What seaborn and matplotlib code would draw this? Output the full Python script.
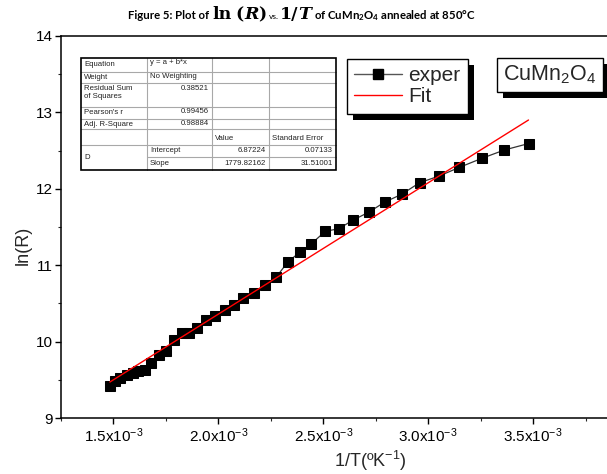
import numpy as np
import matplotlib
matplotlib.use("Agg")
import matplotlib.pyplot as plt
import seaborn as sns
from matplotlib.patches import Rectangle
from matplotlib.lines import Line2D
from matplotlib.ticker import MultipleLocator, FuncFormatter

# ---------------- data ----------------
inv_T_e3 = [1.483, 1.507, 1.533, 1.564, 1.593, 1.619, 1.648, 1.681, 1.716, 1.752,
            1.787, 1.826, 1.859, 1.899, 1.941, 1.983, 2.033, 2.076, 2.117, 2.168,
            2.221, 2.276, 2.330, 2.387, 2.443, 2.510, 2.573, 2.641, 2.719, 2.792,
            2.875, 2.959, 3.052, 3.149, 3.256, 3.363, 3.478]
ln_R = [9.424, 9.486, 9.525, 9.564, 9.591, 9.610, 9.623, 9.715, 9.827, 9.879,
        10.024, 10.109, 10.109, 10.177, 10.286, 10.332, 10.417, 10.476, 10.575, 10.636,
        10.745, 10.846, 11.038, 11.169, 11.280, 11.445, 11.476, 11.589, 11.697, 11.825,
        11.930, 12.080, 12.167, 12.281, 12.399, 12.508, 12.592]

x_ticks_e3 = [1.5, 2.0, 2.5, 3.0, 3.5]
y_ticks = [9, 10, 11, 12, 13, 14]

table_row_labels = ["Equation", "Weight", "Residual Sum\nof Squares", "Pearson's r", "Adj. R-Square"]
table_row_values = ["y = a + b*x", "No Weighting", "0.38521", "0.99456", "0.98884"]
table_header = ["Value", "Standard Error"]
table_param_names = ["Intercept", "Slope"]
table_param_values = ["6.87224", "1779.82162"]
table_param_errors = ["0.07133", "31.51001"]

# ---------------- style ----------------
sns.set_theme(style="white")
plt.rcParams["font.family"] = ["Liberation Sans", "DejaVu Sans"]
plt.rcParams["mathtext.fontset"] = "custom"
plt.rcParams["mathtext.rm"] = "Liberation Sans"
plt.rcParams["mathtext.it"] = "Liberation Sans:italic"
plt.rcParams["mathtext.bf"] = "Lato:bold"

W, H = 607, 474
fig = plt.figure(figsize=(W / 100, H / 100), dpi=100)
fig.patch.set_facecolor("white")


def fx(px):
    return px / W


def fy(py):
    return 1 - py / H


ax = fig.add_axes([fx(61), fy(418), (680 - 61) / W, (418 - 36) / H])
ax.patch.set_visible(False)

x = np.array(inv_T_e3) * 1e-3
y = np.array(ln_R)

sns.lineplot(x=x, y=y, ax=ax, sort=False, estimator=None, color="#333333", lw=0.9,
             marker="s", markersize=6.5, markerfacecolor="black", markeredgecolor="black",
             label="exper", legend=False)

slope, intercept = np.polyfit(x, y, 1)
xf = np.array([x.min(), x.max()])
sns.lineplot(x=xf, y=intercept + slope * xf, ax=ax, color="red", lw=1.0,
             label="Fit", legend=False)

ax.set_xlim(1.25e-3, 4.2e-3)
ax.set_ylim(9, 14)
ax.set_xticks(np.array(x_ticks_e3) * 1e-3)
ax.set_yticks(y_ticks)
ax.xaxis.set_minor_locator(MultipleLocator(0.25e-3))
ax.yaxis.set_minor_locator(MultipleLocator(0.5))
ax.xaxis.set_major_formatter(FuncFormatter(lambda v, p: f"{v * 1e3:.1f}x10$^{{-3}}$"))
ax.tick_params(axis="both", which="major", direction="out", length=4, width=1,
               labelsize=11, pad=2, colors="black", bottom=True, left=True)
ax.tick_params(axis="both", which="minor", direction="out", length=2.5, width=0.8,
               bottom=True, left=True)
for s in ["left", "bottom", "top"]:
    ax.spines[s].set_color("black")
    ax.spines[s].set_linewidth(1.1)
ax.spines["right"].set_visible(False)

ax.set_xlabel("1/T(ºK$^{-1}$)", fontsize=13)
ax.set_ylabel("ln(R)", fontsize=13)
ax.xaxis.set_label_coords(0.499, -0.08)
ax.yaxis.set_label_coords(-0.047, 0.453)

# ---------------- legend ----------------
lines = ax.get_lines()
h_exp = Line2D([], [], color="#555555", lw=1.0, marker="s", markersize=6.5,
               markerfacecolor="black", markeredgecolor="black")
h_fit = Line2D([], [], color="red", lw=1.0)
leg = fig.legend([h_exp, h_fit], [lines[0].get_label(), lines[1].get_label()],
                 loc="upper left", bbox_to_anchor=(fx(347), fy(59)), fontsize=15,
                 frameon=True, fancybox=False, edgecolor="black", framealpha=1,
                 handlelength=2.3, handletextpad=0.3, borderpad=0.35,
                 labelspacing=0.1, borderaxespad=0)
leg.get_frame().set_linewidth(1.0)
leg.set_zorder(5)

# compound label box
box_txt = fig.text(fx(550), fy(75), "CuMn$_2$O$_4$", fontsize=15.5, ha="center", va="center",
                   family="Liberation Sans", zorder=5,
                   bbox=dict(boxstyle="square,pad=0.28", fc="white", ec="black", lw=1.0))

# ---------------- fit table ----------------
cols = [81, 147, 212, 269, 336]
rows = [58, 72, 83, 107, 119, 129, 145, 157, 170]
grey = "#a8a8a8"
tfs = 5.6
tcol = "#222222"


def hline(py, x0, x1, c, lw):
    fig.add_artist(Line2D([fx(x0), fx(x1)], [fy(py), fy(py)], color=c, lw=lw, zorder=6))


def vline(px, y0, y1, c, lw):
    fig.add_artist(Line2D([fx(px), fx(px)], [fy(y0), fy(y1)], color=c, lw=lw, zorder=6))


fig.add_artist(Rectangle((fx(cols[0]), fy(rows[-1])), fx(cols[-1]) - fx(cols[0]),
                         fy(rows[0]) - fy(rows[-1]), fc="white", ec="none", zorder=5.5))
for r in rows[1:-1]:
    if r == 157:
        hline(r, cols[1], cols[-1], grey, 0.8)
    else:
        hline(r, cols[0], cols[-1], grey, 0.8)
for c in cols[1:-1]:
    vline(c, rows[0], rows[-1], grey, 0.8)
fig.add_artist(Rectangle((fx(cols[0]), fy(rows[-1])), fx(cols[-1]) - fx(cols[0]),
                         fy(rows[0]) - fy(rows[-1]), fc="none", ec="black", lw=1.2, zorder=7))


def ttext(px, py, s, ha="left", va="center"):
    fig.text(fx(px), fy(py), s, fontsize=tfs, ha=ha, va=va, color=tcol,
             family="Liberation Sans", zorder=8, linespacing=1.25)


for i, (lab, val) in enumerate(zip(table_row_labels, table_row_values)):
    top, bot = rows[i], rows[i + 1]
    mid = (top + bot) / 2
    if "\n" in lab:
        ttext(cols[0] + 3, top + 2, lab, va="top")
    else:
        ttext(cols[0] + 3, mid, lab)
    if i < 2:
        ttext(cols[1] + 3, top + 1.5, val, va="top")
    elif "\n" in lab:
        ttext(cols[2] - 3, top + 2, val, ha="right", va="top")
    else:
        ttext(cols[2] - 3, top + 1, val, ha="right", va="top")
ttext(cols[2] + 3, (rows[5] + rows[6]) / 2 + 1, table_header[0])
ttext(cols[3] + 3, (rows[5] + rows[6]) / 2 + 1, table_header[1])
ttext(cols[0] + 3, rows[7], "D")
for j in range(2):
    mid = (rows[6 + j] + rows[7 + j]) / 2
    ttext(cols[1] + 3, mid, table_param_names[j])
    ttext(cols[3] - 3, mid, table_param_values[j], ha="right")
    ttext(cols[4] - 3, mid, table_param_errors[j], ha="right")

# ---------------- title ----------------
title_pieces = [
    ("Figure 5: Plot of", dict(family="Lato", weight="bold", size=8.2), 3),
    ("ln", dict(family="DejaVu Serif", weight="bold", size=12.5), 4),
    ("(", dict(family="DejaVu Serif", weight="bold", size=12.5), 0),
    ("R", dict(family="DejaVu Serif", weight="bold", style="italic", size=12.5), 0),
    (")", dict(family="DejaVu Serif", weight="bold", size=12.5), 2),
    ("vs.", dict(family="Lato", size=6), 1),
    ("1/", dict(family="DejaVu Serif", weight="bold", size=12.5), 0),
    ("T", dict(family="DejaVu Serif", weight="bold", style="italic", size=12.5), 3),
    ("of CuMn$_\\mathbf{2}$O$_\\mathbf{4}$ annealed at 850°C",
     dict(family="Lato", weight="bold", size=8.2), 0),
]
title_texts = []
for s, props, gap in title_pieces:
    t = fig.text(0, fy(19), s, ha="left", va="baseline", color="black", **props)
    title_texts.append((t, gap))

fig.canvas.draw()
renderer = fig.canvas.get_renderer()
widths = [t.get_window_extent(renderer).width for t, g in title_texts]
total = sum(widths) + sum(g for t, g in title_texts[:-1])
xpos = 302 - total / 2
for (t, gap), w in zip(title_texts, widths):
    t.set_x(fx(xpos))
    xpos += w + gap

# ---------------- shadows ----------------
inv = fig.transFigure.inverted()
sh = 6
for bb in [leg.get_window_extent(renderer), box_txt.get_bbox_patch().get_window_extent(renderer)]:
    (x0, y0), (x1, y1) = inv.transform([[bb.x0 + sh, bb.y0 - sh], [bb.x1 + sh, bb.y1 - sh]])
    fig.add_artist(Rectangle((x0, y0), x1 - x0, y1 - y0, fc="black", ec="none", zorder=4))

fig.savefig("out.png", dpi=100)
